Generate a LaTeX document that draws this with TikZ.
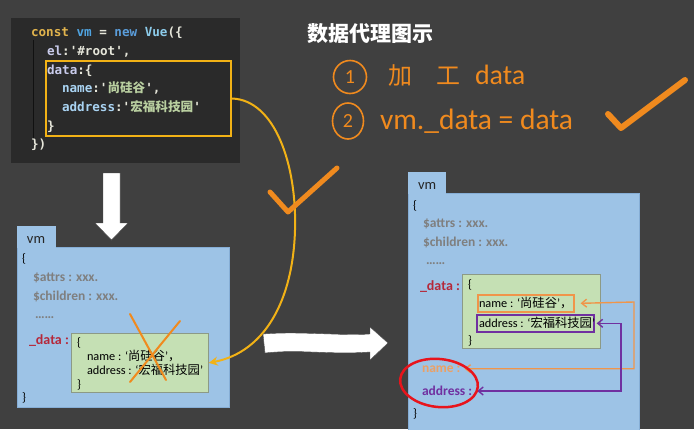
\documentclass[tikz,border=0pt]{standalone}
\usepackage{fontspec}
\setmainfont{Carlito}
\setmonofont{DejaVu Sans Mono}
\newfontfamily\cjk{Noto Sans CJK SC}
\usetikzlibrary{arrows.meta,shapes.geometric}
\definecolor{bg}{HTML}{404040}
\definecolor{codebg}{HTML}{2A2A2A}
\definecolor{gold}{HTML}{F2B216}
\definecolor{hand}{HTML}{F08A1E}
\definecolor{vmblue}{HTML}{9DC3E6}
\definecolor{vmborder}{HTML}{86AED6}
\definecolor{gbox}{HTML}{C5E0B4}
\definecolor{gborder}{HTML}{8C9A86}
\definecolor{greytxt}{HTML}{7F7F7F}
\definecolor{redtxt}{HTML}{B5283A}
\definecolor{ltorange}{HTML}{EBA066}
\definecolor{orline}{HTML}{F0954A}
\definecolor{purp}{HTML}{7030A0}
\definecolor{redring}{HTML}{E8141C}
\definecolor{cconst}{HTML}{E2B44D}
\definecolor{cvm}{HTML}{4FA3E0}
\definecolor{cnew}{HTML}{5A9DDB}
\definecolor{cvue}{HTML}{8CCBEA}
\definecolor{cpun}{HTML}{E6E6DA}
\definecolor{cprop}{HTML}{C9CBEB}
\definecolor{cname}{HTML}{A9D3F2}
\definecolor{cstr}{HTML}{B9CFA0}
\begin{document}
\begin{tikzpicture}[x=1pt,y=-1pt,
  txt/.style={anchor=base west,inner sep=0pt,outer sep=0pt},
  codetxt/.style={txt,font=\ttfamily\bfseries\fontsize{12.6}{14}\selectfont,text=cpun},
  boxtxt/.style={txt,font=\fontsize{12.3}{14}\selectfont,text=black},
  greytx/.style={txt,font=\bfseries\fontsize{13.5}{15}\selectfont,text=greytxt},
  vmtab/.style={fill=vmblue},
  vmbox/.style={fill=vmblue,draw=vmborder,line width=0.6pt,anchor=north west,inner sep=0pt},
  greenbox/.style={fill=gbox,draw=gborder,line width=0.8pt,anchor=north west,inner sep=0pt},
  handline/.style={draw=hand,line cap=round,line join=round},
  whitearrow/.style={fill=white,draw=black!70,line width=0.4pt,line join=round}
]
\fill[bg] (0,0) rectangle (694,429);
\useasboundingbox (0,0) rectangle (694,429);

% ---- code panel ----
\node[fill=codebg,anchor=north west,minimum width=229pt,minimum height=145pt,inner sep=0pt] (code) at (11,18) {};
\draw[black!60!codebg,line width=0.6pt] (33,40) -- (33,140);
\node[codetxt] (l1) at (31,36) {\textcolor{cconst}{const} \textcolor{cvm}{vm} = \textcolor{cnew}{new} \textcolor{cvue}{Vue}(\{};
\node[codetxt] (l2) at (47,55) {\textcolor{cprop}{el}:'\#root',};
\node[codetxt] (l3) at (47,74) {\textcolor{cprop}{data}:\{};
\node[codetxt] (l4) at (62,92) {\textcolor{cname}{name}:'\textcolor{cstr}{\cjk 尚硅谷}',};
\node[codetxt] (l5) at (62,111) {\textcolor{cname}{address}:'\textcolor{cstr}{\cjk 宏福科技园}'};
\node[codetxt] (l6) at (47,130) {\}};
\node[codetxt] (l7) at (31,148) {\})};
\node[draw=gold,line width=2pt,anchor=north west,minimum width=185pt,minimum height=75pt,inner sep=0pt] (databox) at (45,60) {};

% ---- title and notes ----
\node[txt,font=\cjk\bfseries\fontsize{21}{24}\selectfont,text=white] (title) at (307,41) {数据代理图示};
\node[draw=hand,line width=1.6pt,ellipse,minimum width=33pt,minimum height=33pt,inner sep=0pt,text=hand,font=\fontsize{20}{22}\selectfont] (c1) at (350,77) {1};
\node[draw=hand,line width=1.6pt,ellipse,minimum width=31pt,minimum height=36pt,inner sep=0pt,text=hand,font=\fontsize{20}{22}\selectfont] (c2) at (348,121) {2};
\node[txt,font=\cjk\fontsize{24}{26}\selectfont,text=hand] (jia) at (388,84) {加};
\node[txt,font=\cjk\fontsize{24}{26}\selectfont,text=hand] (gong) at (436,84) {工};
\node[txt,font=\fontsize{28}{30}\selectfont,text=hand] (n1) at (475,84) {data};
\node[txt,font=\fontsize{29.5}{31}\selectfont,text=hand] (n2) at (380,129) {vm.\_data = data};
\draw[handline,line width=6pt] (608,114) -- (621,128) -- (685,80);

% ---- down arrow ----
\draw[whitearrow] (103,173) -- (120,173) -- (120,223) -- (128,223) -- (111.5,240) -- (95,223) -- (103,223) -- cycle;

% ---- left vm ----
\fill[vmtab] (17,226) rectangle (56,248);
\node[vmbox,minimum width=212pt,minimum height=160pt] (lvm) at (17,247) {};
\fill[vmtab] (17.4,246) rectangle (55.6,248);
\node[txt,font=\fontsize{14.5}{16}\selectfont,text=black!85] (lvmname) at (27,243) {vm};
\node[boxtxt] (lo) at (22,262) {\{};
\node[greytx] (la) at (33,281) {\$attrs : xxx.};
\node[greytx] (lc) at (33,300) {\$children : xxx.};
\node[greytx] (ld) at (35,318) {……};
\node[txt,font=\bfseries\fontsize{14}{16}\selectfont,text=redtxt] (ldata) at (29,344) {\_data :};
\node[boxtxt] (lcl) at (22,401) {\}};
\node[greenbox,minimum width=137pt,minimum height=59pt] (lgreen) at (71,333) {};
\node[boxtxt] (lg1) at (77,346) {\{};
\node[boxtxt] (lg2) at (87,360) {name : ‘{\cjk 尚硅谷}’{\cjk ，}};
\node[boxtxt] (lg3) at (87,374) {address : ‘{\cjk 宏福科技园}’};
\node[boxtxt] (lg4) at (77,388) {\}};
\draw[handline,line width=2pt] (130,314) -- (166,380);
\draw[handline,line width=2pt] (180,321) -- (130,382);

% ---- yellow curve ----
\draw[gold,line width=2pt,-{Stealth[length=9pt,width=9pt]}] (databox.east) .. controls (275,100) and (297,165) .. (295,230) .. controls (293,300) and (265,352) .. (lgreen.east);
\draw[handline,line width=5pt] (270,192) -- (288,212) -- (337,168);

% ---- middle arrow ----
\draw[whitearrow] (263,334) .. controls (300,331) and (340,336) .. (370,334) -- (370,327) -- (388,343) -- (370,360) -- (370,352) .. controls (330,355) and (300,349) .. (265,353) -- cycle;

% ---- right vm ----
\fill[vmtab] (408,172) rectangle (446,194);
\node[vmbox,minimum width=231pt,minimum height=240pt] (rvm) at (408,193) {};
\fill[vmtab] (408.4,192) rectangle (445.6,194);
\node[txt,font=\fontsize{14.5}{16}\selectfont,text=black!85] (rvmname) at (418,189) {vm};
\node[boxtxt] (ro) at (413,209) {\{};
\node[greytx] (ra) at (423,227) {\$attrs : xxx.};
\node[greytx] (rc) at (423,246) {\$children : xxx.};
\node[greytx] (rd) at (426,264) {……};
\node[txt,font=\bfseries\fontsize{14}{16}\selectfont,text=redtxt] (rdata) at (420,290) {\_data :};
\node[greenbox,minimum width=138pt,minimum height=74pt] (rgreen) at (462,274) {};
\node[boxtxt] (rg1) at (468,288) {\{};
\node[draw=orline,line width=1.6pt,anchor=north west,minimum width=96pt,minimum height=17pt,inner sep=0pt] (rname) at (477,294) {};
\node[draw=purp,line width=1.6pt,anchor=north west,minimum width=117pt,minimum height=17pt,inner sep=0pt] (raddr) at (476,314) {};
\node[boxtxt] (rg2) at (479,307) {name : ‘{\cjk 尚硅谷}’{\cjk ，}};
\node[boxtxt] (rg3) at (479,327) {address : ‘{\cjk 宏福科技园}’};
\node[boxtxt] (rg4) at (468,344) {\}};
\node[txt,font=\bfseries\fontsize{13.5}{15}\selectfont,text=ltorange] (lname) at (422,372) {name :};
\node[txt,font=\bfseries\fontsize{13.5}{15}\selectfont,text=purp] (laddr) at (422,395) {address :};
\node[boxtxt] (rcl) at (413,417) {\}};
\coordinate (oc) at (634,302);
\coordinate (pc) at (621,391);
\draw[orline,line width=1.4pt,{Straight Barb[length=5pt,width=8pt]}-{Straight Barb[length=5pt,width=8pt]}] (rname.east) ++(6,0) -- (oc) |- ([xshift=4pt]lname.east);
\draw[purp,line width=1.4pt,{Straight Barb[length=5pt,width=8pt]}-{Straight Barb[length=5pt,width=8pt]}] ([xshift=2pt]raddr.east) -| (pc) -- ([xshift=5pt]laddr.east |- pc);
\draw[redring,line width=2.5pt,rotate around={-6:(439,383)}] (439,383) ellipse [x radius=39pt,y radius=24pt];
\end{tikzpicture}
\end{document}
